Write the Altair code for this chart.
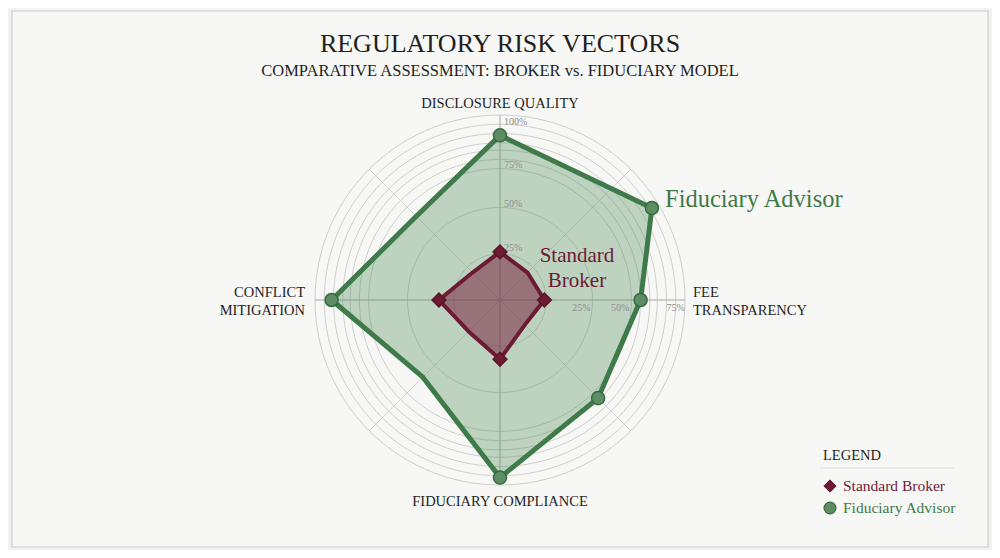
import altair as alt
import pandas as pd

# ---------------- data ----------------
series_names = ["Standard Broker", "Fiduciary Advisor"]

broker_angles = [0, 45, 90, 135, 180, 225, 270, 315]
broker_values = [26, 21, 24, 19, 32, 24, 33, 21]
broker_marked = [1, 0, 1, 0, 1, 0, 1, 0]

fid_angles = [0, 58.8, 90, 135, 180, 225, 270, 315]
fid_values = [89, 96, 76, 75, 96, 59, 91, 64]
fid_marked = [1, 1, 1, 1, 1, 0, 1, 0]

ring_levels = [25, 50, 71, 76, 81, 85, 90, 95, 100]
spoke_angles = [0, 45, 90, 135, 180, 225, 270, 315]

vtick_labels = ["100%", "75%", "50%", "25%"]
vtick_r = [96, 73, 52, 28]
htick_labels = ["25%", "50%", "75%"]
htick_r = [44, 65, 95]

title_text = "REGULATORY RISK VECTORS"
subtitle_text = "COMPARATIVE ASSESSMENT: BROKER vs. FIDUCIARY MODEL"

# ---------------- styling ----------------
FONT = "Liberation Serif"
BROKER = "#6d1b35"
FID = "#3f7a4b"
FID_PT = "#5e8d65"
W, H = 984, 542
CX, CY = 492, 292
PX = 1.85

xs = alt.Scale(domain=[-CX / PX, (W - CX) / PX], nice=False, zero=False)
ys = alt.Scale(domain=[-(H - CY) / PX, CY / PX], nice=False, zero=False)
X = alt.X("x:Q", scale=xs, axis=None)
Y = alt.Y("y:Q", scale=ys, axis=None)

calc = dict(x="datum.r*sin(datum.a*PI/180)", y="datum.r*cos(datum.a*PI/180)")

one = pd.DataFrame({"k": [0]})

# frame
frame = alt.Chart(one).mark_rect(fill="#f7f7f5", stroke="#cccccc", strokeWidth=1.2).encode(
    x=alt.value(4), x2=alt.value(980), y=alt.value(3), y2=alt.value(539)
)

# rings
ring_df = pd.DataFrame([(lv, a) for lv in ring_levels for a in range(0, 361, 3)], columns=["r", "a"])
rings = alt.Chart(ring_df).transform_calculate(**calc).mark_line(
    stroke="#cfcfcf", strokeWidth=1
).encode(x=X, y=Y, detail="r:N", order="a:Q")

# spokes
spoke_df = pd.DataFrame({"a": spoke_angles})
spokes = alt.Chart(spoke_df).transform_calculate(
    r="100", x0="0", y0="0",
    col="datum.a % 90 == 0 ? '#a9a9a9' : '#d4d4d4'",
    **calc
).mark_rule(strokeWidth=1).encode(
    x=alt.X("x0:Q", scale=xs, axis=None), y=alt.Y("y0:Q", scale=ys, axis=None),
    x2="x:Q", y2="y:Q", stroke=alt.Stroke("col:N", scale=None)
)

# tick labels
vt = pd.DataFrame({"t": vtick_labels, "r": vtick_r, "a": [0] * len(vtick_labels)})
vticks = alt.Chart(vt).transform_calculate(**calc).mark_text(
    font=FONT, fontSize=10, color="#8f8f8f", align="left", dx=4, baseline="middle"
).encode(x=X, y=Y, text="t:N")
ht = pd.DataFrame({"t": htick_labels, "r": htick_r, "a": [90] * len(htick_labels)})
hticks = alt.Chart(ht).transform_calculate(**calc).mark_text(
    font=FONT, fontSize=10, color="#8f8f8f", align="center", dy=8, baseline="middle"
).encode(x=X, y=Y, text="t:N")


def poly_df(angles, values):
    n = len(angles)
    idx = list(range(n)) + [n]
    return pd.DataFrame({
        "a": list(angles) + [angles[0]],
        "r": list(values) + [values[0]],
        "i": idx,
    })


fid_poly = alt.Chart(poly_df(fid_angles, fid_values)).transform_calculate(**calc).mark_line(
    fill="#4d8a59", fillOpacity=0.34, stroke=FID, strokeWidth=5, strokeJoin="round"
).encode(x=X, y=Y, order="i:Q")

brk_poly = alt.Chart(poly_df(broker_angles, broker_values)).transform_calculate(**calc).mark_line(
    fill="#7a2542", fillOpacity=0.55, stroke=BROKER, strokeWidth=4, strokeJoin="round"
).encode(x=X, y=Y, order="i:Q")


# markers
def marker_df(name, angles, values, marked):
    rows = [{"series": name, "a": a, "r": r} for a, r, m in zip(angles, values, marked) if m]
    return pd.DataFrame(rows)


brk_pts = alt.Chart(marker_df(series_names[0], broker_angles, broker_values, broker_marked)).transform_calculate(
    **calc
).mark_point(shape="diamond", filled=True, opacity=1, size=190, fill=BROKER, stroke="#5a1329",
             strokeWidth=1.5).encode(x=X, y=Y)
fid_pts = alt.Chart(marker_df(series_names[1], fid_angles, fid_values, fid_marked)).transform_calculate(
    **calc
).mark_point(shape="circle", filled=True, opacity=1, size=170, fill=FID_PT, stroke="#356b41",
             strokeWidth=1.5).encode(x=X, y=Y)


def txt(text, x, y, size, color="#1f1f1f", align="center", font=FONT, lh=None):
    kw = dict(font=font, fontSize=size, color=color, align=align, baseline="middle")
    if lh:
        kw["lineHeight"] = lh
    return alt.Chart(one).mark_text(**kw).encode(x=alt.value(x), y=alt.value(y), text=alt.value(text))


texts = [
    txt(title_text, 492, 36, 26),
    txt(subtitle_text, 492, 63, 16.5),
    txt("DISCLOSURE QUALITY", 492, 96, 14.5),
    txt(["FEE", "TRANSPARENCY"], 685, 285, 14.5, align="left", lh=18),
    txt(["CONFLICT", "MITIGATION"], 297, 285, 14.5, align="right", lh=18),
    txt("FIDUCIARY COMPLIANCE", 492, 494, 14.5),
    txt("Fiduciary Advisor", 657, 192, 24.5, color=FID, align="left"),
    txt(["Standard", "Broker"], 569, 248, 21, color=BROKER, lh=25),
]

# legend (key box)
sep = alt.Chart(one).mark_rule(stroke="#dddddd", strokeWidth=1).encode(
    x=alt.value(812), x2=alt.value(947), y=alt.value(460)
)
key_items = [
    txt("LEGEND", 815, 448, 14.5, align="left"),
    alt.Chart(one).mark_point(shape="diamond", filled=True, opacity=1, size=150, fill=BROKER,
                              stroke="#5a1329", strokeWidth=1).encode(x=alt.value(822), y=alt.value(478)),
    alt.Chart(one).mark_point(shape="circle", filled=True, opacity=1, size=140, fill=FID_PT,
                              stroke="#356b41", strokeWidth=1.2).encode(x=alt.value(822), y=alt.value(500)),
    txt(series_names[0], 835, 478, 15.5, color=BROKER, align="left"),
    txt(series_names[1], 835, 500, 15.5, color=FID, align="left"),
]

chart = alt.layer(
    frame, rings, spokes, fid_poly, brk_poly, vticks, hticks, brk_pts, fid_pts, sep, *texts, *key_items
).properties(
    width=W, height=H, autosize=alt.AutoSizeParams(type="none"), padding=0, background="#f2f2f1"
).configure_view(stroke=None)

chart.save("out.html", embed_options={"renderer": "svg", "actions": False})
